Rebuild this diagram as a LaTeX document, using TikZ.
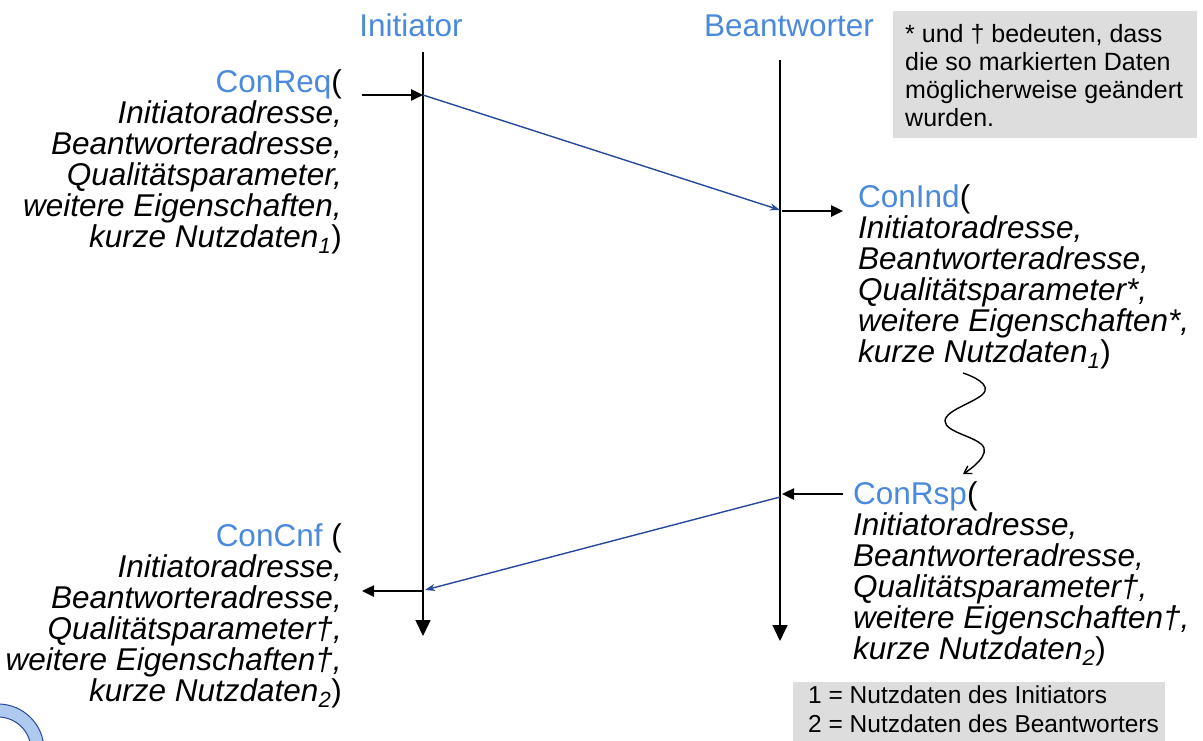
\documentclass[tikz,border=0pt]{standalone}
\usepackage{fontspec}
\setmainfont{Liberation Sans}
\usetikzlibrary{arrows.meta}
\definecolor{tblue}{RGB}{74,137,220}
\definecolor{lblue}{RGB}{40,72,155}
\definecolor{boxgray}{RGB}{221,221,221}
\begin{document}
\begin{tikzpicture}[x=1pt,y=-1pt,
  big/.style={font=\fontsize{31.5}{31}\selectfont\itshape, inner sep=0pt},
  titletext/.style={font=\fontsize{31.5}{31}\selectfont, text=tblue, inner sep=0pt},
  life/.style={line width=1.5pt, -{Triangle[length=16pt,width=15pt]}},
  prim/.style={line width=2.5pt, -{Triangle[length=12pt,width=11pt]}},
  msg/.style={lblue, line width=1.4pt, -{Stealth[length=10pt,width=7pt,inset=3pt]}},
  graybox/.style={fill=boxgray, inner sep=0pt, align=left, anchor=north west}]
\useasboundingbox (0,0) rectangle (1203,740);

% partial logo bottom left
\draw[lblue, line width=1pt, fill=tblue!45, even odd rule] (-2,750) circle (46) (-2,750) circle (33);

% titles
\node[titletext, anchor=base] (tinit) at (411,36) {Initiator};
\node[titletext, anchor=base] (tbeant) at (789,36) {Beantworter};

% lifelines
\coordinate (iTop) at (423,52);
\coordinate (iBot) at (423,636);
\coordinate (bTop) at (780,60);
\coordinate (bBot) at (780,641);
\draw[life] (iTop) -- (iBot);
\draw[life] (bTop) -- (bBot);

% event points
\coordinate (reqA) at (362,95);
\coordinate (reqB) at (423,95);
\coordinate (indA) at (780,210);
\coordinate (indB) at (782,211);
\coordinate (indC) at (843,211);
\coordinate (rspA) at (843,494);
\coordinate (rspB) at (782,494);
\coordinate (rspC) at (780,497);
\coordinate (cnfA) at (425,590);
\coordinate (cnfB) at (423,591);
\coordinate (cnfC) at (362,591);

\draw[prim] (reqA) -- (reqB);
\draw[msg] (reqB) -- (indA);
\draw[prim] (indB) -- (indC);
\draw[prim] (rspA) -- (rspB);
\draw[msg] (rspC) -- (cnfA);
\draw[prim] (cnfB) -- (cnfC);

% text blocks
\node[big, align=right, anchor=north east] (req) at (342,69)
 {\textup{{\color{tblue}ConReq}(}\\
  Initiatoradresse,\\
  Beantworteradresse,\\
  Qualitätsparameter,\\
  weitere Eigenschaften,\\
  kurze Nutzdaten\textsubscript{1}\textup{)}};

\node[big, align=left, anchor=north west] (ind) at (858,184)
 {\textup{{\color{tblue}ConInd}(}\\
  Initiatoradresse,\\
  Beantworteradresse,\\
  Qualitätsparameter*,\\
  weitere Eigenschaften*,\\
  kurze Nutzdaten\textsubscript{1}\textup{)}};

\node[big, align=left, anchor=north west] (rsp) at (853,481)
 {\textup{{\color{tblue}ConRsp}(}\\
  Initiatoradresse,\\
  Beantworteradresse,\\
  Qualitätsparameter†,\\
  weitere Eigenschaften†,\\
  kurze Nutzdaten\textsubscript{2}\textup{)}};

\node[big, align=right, anchor=north east] (cnf) at (342,523)
 {\textup{{\color{tblue}ConCnf} (}\\
  Initiatoradresse,\\
  Beantworteradresse,\\
  Qualitätsparameter†,\\
  weitere Eigenschaften†,\\
  kurze Nutzdaten\textsubscript{2}\textup{)}};

% squiggle from ConInd to ConRsp
\draw[line width=1.4pt, -{Straight Barb[length=7pt,width=9pt]}]
  plot[smooth, tension=0.75] coordinates {(963,373) (985,391) (945,421) (984,448) (963,474)};

% note box
\fill[boxgray] (893,11) rectangle (1197,138);
\node[inner sep=0pt, align=left, anchor=north west,
      font=\fontsize{25}{28}\selectfont] (note) at (905,24)
 {* und † bedeuten, dass\\
  die so markierten Daten\\
  möglicherweise geändert\\
  wurden.};

% legend box
\fill[boxgray] (793,682) rectangle (1165,742);
\node[inner sep=0pt, align=left, anchor=north west,
      font=\fontsize{24.5}{29}\selectfont] (legend) at (808,686)
 {1 = Nutzdaten des Initiators\\
  2 = Nutzdaten des Beantworters};
\end{tikzpicture}
\end{document}
